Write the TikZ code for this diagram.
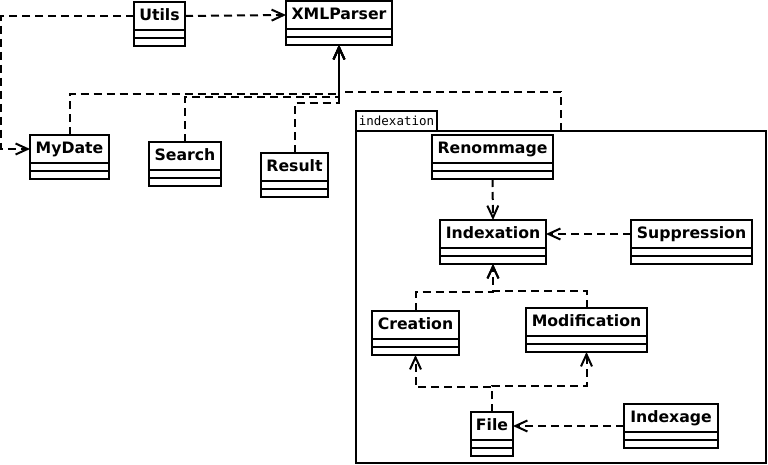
\documentclass[tikz,border=0pt]{standalone}
\usepackage{fontspec}
\setmainfont{DejaVu Sans}
\newfontfamily\monofnt{DejaVu Sans Mono}
\usetikzlibrary{arrows.meta}
\tikzset{
  cls/.style={draw, line width=2pt, fill=white, inner sep=0pt, outer sep=0pt,
    minimum height=44pt, anchor=north west, text height=11.5pt, text depth=18.5pt,
    font=\fontsize{15.7pt}{18pt}\selectfont\bfseries,
    path picture={\draw[line width=2pt]
      ([yshift=-28pt]path picture bounding box.north west) -- ([yshift=-28pt]path picture bounding box.north east)
      ([yshift=-36pt]path picture bounding box.north west) -- ([yshift=-36pt]path picture bounding box.north east);}},
  dep/.style={line width=2pt, dash pattern=on 8pt off 5pt, -{Straight Barb[length=12pt,width=11pt]}},
  pkgbox/.style={draw, line width=1.8pt, inner sep=0pt, outer sep=0pt}
}
\begin{document}
\begin{tikzpicture}[x=1pt,y=-1pt]
\useasboundingbox (0,0) rectangle (768,465);
% package
\node[pkgbox, anchor=north west, minimum width=410pt, minimum height=332pt] (pkg) at (356,131) {};
\node[pkgbox, anchor=south west, minimum width=81pt, minimum height=20pt, font=\monofnt\fontsize{12.5pt}{14pt}\selectfont] (pkgtab) at (356,131) {indexation};
% classes
\node[cls, minimum width=51pt] (utils) at (134,2) {Utils};
\node[cls, minimum width=106pt] (xml) at (286,1) {XMLParser};
\node[cls, minimum width=79pt] (mydate) at (30,135) {MyDate};
\node[cls, minimum width=72pt] (search) at (149,142) {Search};
\node[cls, minimum width=67pt] (result) at (261,153) {Result};
\node[cls, minimum width=121pt] (renommage) at (432,135) {Renommage};
\node[cls, minimum width=106pt] (indexation) at (440,220) {Indexation};
\node[cls, minimum width=121pt] (suppression) at (631,220) {Suppression};
\node[cls, minimum width=87pt] (creation) at (372,311) {Creation};
\node[cls, minimum width=121pt] (modification) at (526,308) {Modification};
\node[cls, minimum width=42pt] (file) at (471,412) {File};
\node[cls, minimum width=94pt] (indexage) at (624,404) {Indexage};
% connectors
\draw[dep] ([yshift=-14pt]utils.north east) -- ([yshift=-14pt]xml.north west);
\draw[dep] ([yshift=-14pt]utils.north west) -- ++(-133,0) |- ([yshift=-14pt]mydate.north west);
\draw[dep] (mydate.north) -- ++(0,-41) -| (xml.south);
\draw[dep] (search.north) -- ++(0,-45) -| (xml.south);
\draw[dep] (result.north) -- ++(0,-50) -| (xml.south);
\draw[dep] (pkg.north) -- ++(0,-39) -| (xml.south);
\draw[dep] (renommage.south) -- (indexation.north);
\draw[dep] ([yshift=-14pt]suppression.north west) -- ([yshift=-14pt]indexation.north east);
\draw[dep] (creation.north) -- ++(0,-19) -| (indexation.south);
\draw[dep] (modification.north) -- ++(0,-17) -| (indexation.south);
\draw[dep] (file.north) -- ++(0,-25) -| (creation.south);
\draw[dep] (file.north) -- ++(0,-26) -| (modification.south);
\draw[dep] (indexage.west) -- (indexage.west -| file.east);
\end{tikzpicture}
\end{document}
